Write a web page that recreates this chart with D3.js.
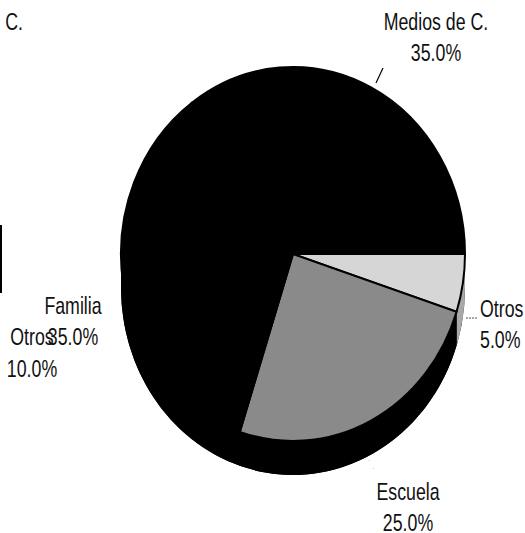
<!DOCTYPE html>
<html>
<head>
<meta charset="utf-8">
<script src="https://cdn.jsdelivr.net/npm/d3@7"></script>
<style>
  body { margin: 0; background: #fff; }
  text { font-family: "Liberation Sans", Arial, sans-serif; font-size: 24px; fill: #111; }
</style>
</head>
<body>
<script>
const width = 525;
const height = 533;

// data
const categories = ["Otros", "Escuela", "Familia", "Medios de C."];
const values = [5, 25, 35, 35];
const valueLabels = ["5.0%", "25.0%", "35.0%", "35.0%"];

// geometry of the tilted pie
const cx = 293, cy = 254, rx = 172, ry = 187, depth = 34;
const squeeze = 0.74; // the scan uses a condensed face

const svg = d3.select("body").append("svg")
    .attr("width", width)
    .attr("height", height)
    .attr("viewBox", `0 0 ${width} ${height}`);

const color = d3.scaleOrdinal()
    .domain(categories)
    .range(["#d6d6d6", "#8a8a8a", "#000", "#000"]);

const sideColor = d3.scaleOrdinal()
    .domain(categories)
    .range(["#a8a8a8", "#000", "#000", "#000"]);

// Otros starts at the horizontal (3 o'clock) and goes clockwise
const pie = d3.pie()
    .sort(null)
    .value(d => d)
    .startAngle(Math.PI / 2)
    .endAngle(Math.PI / 2 + 2 * Math.PI);

const arcs = pie(values);

const pt = (a, dy = 0) => [cx + rx * Math.sin(a), cy - ry * Math.cos(a) + dy];

// side band of the pie (the depth)
svg.append("path")
    .attr("d", `M${cx + rx},${cy} L${cx + rx},${cy + depth} A${rx},${ry} 0 0 1 ${cx - rx},${cy + depth} L${cx - rx},${cy} Z`)
    .attr("fill", "#000");

// visible side of each front slice
arcs.forEach((d, i) => {
    const a0 = Math.max(d.startAngle, Math.PI / 2);
    const a1 = Math.min(d.endAngle, 3 * Math.PI / 2);
    if (a1 <= a0) return;
    const p0 = pt(a0), p1 = pt(a1), q1 = pt(a1, depth), q0 = pt(a0, depth);
    svg.append("path")
        .attr("d", `M${p0} A${rx},${ry} 0 0 1 ${p1} L${q1} A${rx},${ry} 0 0 0 ${q0} Z`)
        .attr("fill", sideColor(categories[i]));
});

// top face: unit arc stretched into an ellipse
const arc = d3.arc().innerRadius(0).outerRadius(1);

svg.append("g")
    .attr("transform", `translate(${cx},${cy}) scale(${rx},${ry})`)
    .selectAll("path")
    .data(arcs)
    .join("path")
    .attr("d", arc)
    .attr("fill", (d, i) => color(categories[i]))
    .attr("stroke", "#000")
    .attr("stroke-width", 2)
    .attr("vector-effect", "non-scaling-stroke");

// condensed text helper
function label(x, y, lines, anchor, gap = 31) {
    const g = svg.append("g").attr("transform", `translate(${x},${y}) scale(${squeeze},1)`);
    const t = g.append("text").attr("text-anchor", anchor);
    lines.forEach((s, k) => {
        t.append("tspan").attr("x", 0).attr("dy", k ? gap : 0).text(s);
    });
}

const labelPos = {
    "Medios de C.": { x: 436, y: 30, anchor: "middle" },
    "Otros": { x: 480, y: 317, anchor: "start" },
    "Escuela": { x: 408, y: 500, anchor: "middle" },
    "Familia": { x: 73, y: 314, anchor: "middle" }
};

categories.forEach((c, i) => {
    const p = labelPos[c];
    label(p.x, p.y, [c, valueLabels[i]], p.anchor);
});

// leader lines
svg.append("line")
    .attr("x1", 376).attr("y1", 83).attr("x2", 383).attr("y2", 68)
    .attr("stroke", "#000").attr("stroke-width", 1.2);
svg.append("line")
    .attr("x1", 466).attr("y1", 318).attr("x2", 477).attr("y2", 318)
    .attr("stroke", "#555").attr("stroke-width", 1).attr("stroke-dasharray", "2,1");
svg.append("line")
    .attr("x1", 369).attr("y1", 460).attr("x2", 376).attr("y2", 473)
    .attr("stroke", "#aaa").attr("stroke-width", 0.8).attr("stroke-dasharray", "1,8");

// leftovers of the neighbouring chart in the scan
label(32, 345, ["Otros", "10.0%"], "middle", 32);
label(23, 30, ["Medios de C."], "end");

svg.append("line")
    .attr("x1", 1).attr("y1", 225).attr("x2", 1).attr("y2", 293)
    .attr("stroke", "#000").attr("stroke-width", 2);
</script>
</body>
</html>
